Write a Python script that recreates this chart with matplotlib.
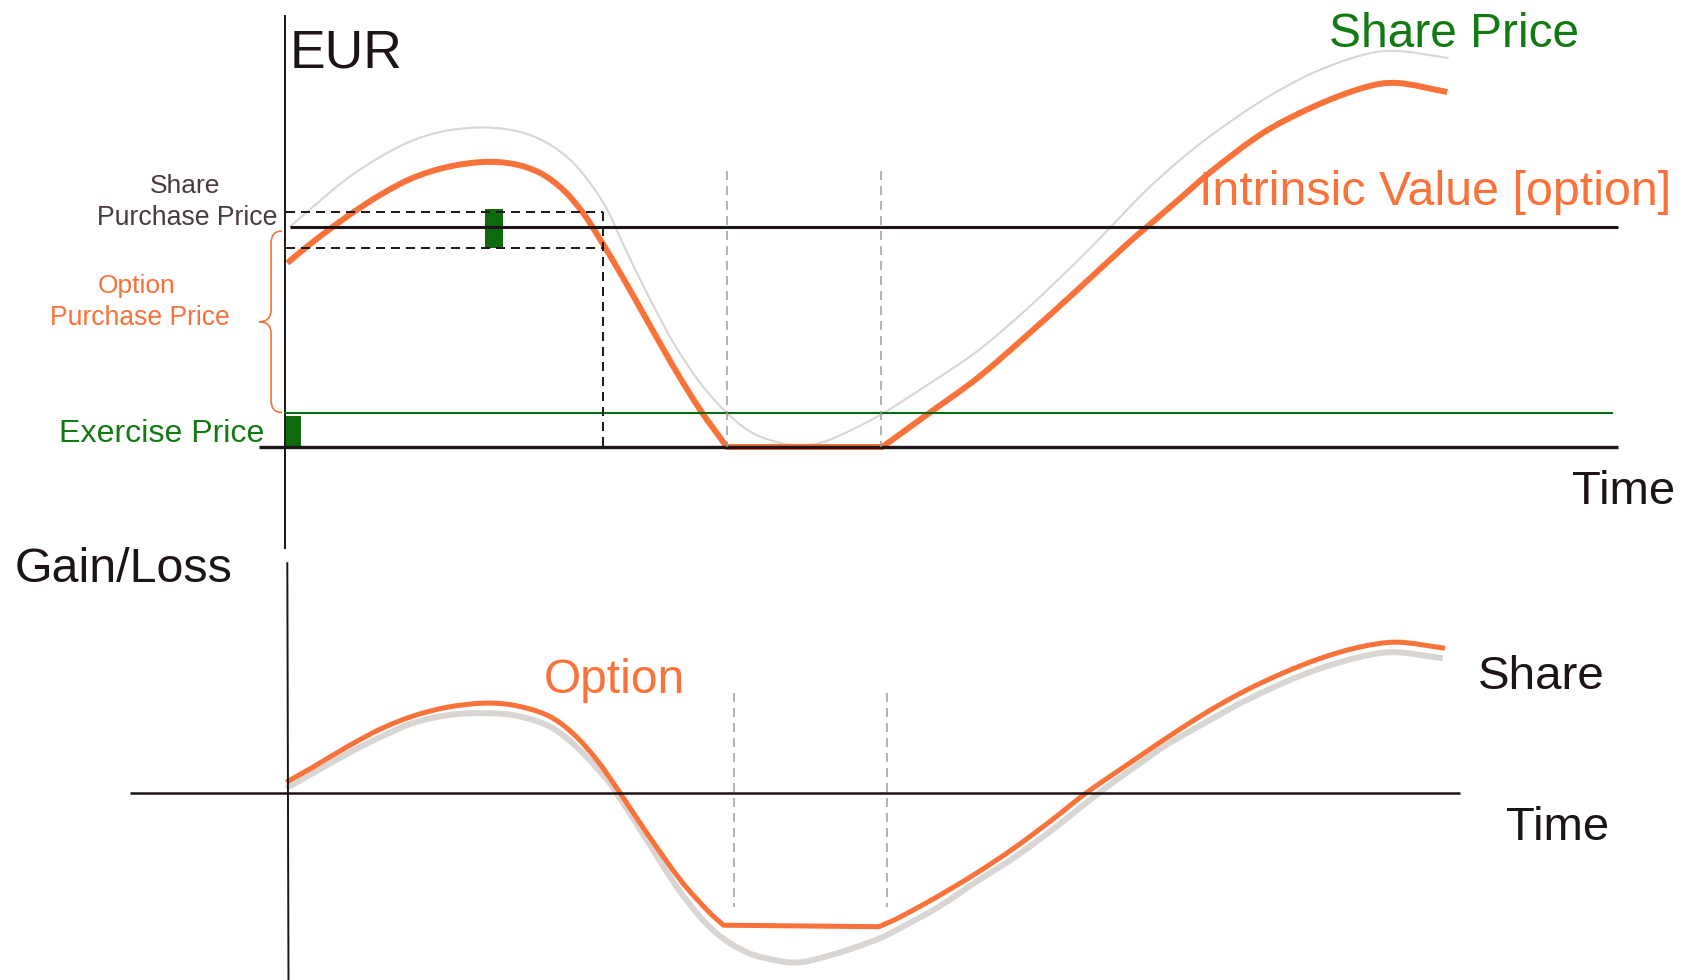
import matplotlib.pyplot as plt
from matplotlib.path import Path
from matplotlib.patches import PathPatch, Rectangle

plt.rcParams['font.family'] = ['Liberation Sans', 'DejaVu Sans']
plt.rcParams['lines.scale_dashes'] = False

ORANGE = '#f97239'
GREEN = '#0d6b0d'
GREEN_TEXT = '#137a13'
INK = '#1c1416'
LABEL_GREY = '#4a3c3c'
CURVE_GREY = '#d8d5d2'
DASH_GREY = '#a39c99'

# --- upper chart: share price and intrinsic value of the option (EUR) ---
share_t = [0.4, 2.4, 5.3, 8.2, 11.0, 14.0, 17.4, 20.3, 22.6, 24.6, 26.3, 27.8,
           29.1, 31.2, 33.5, 35.8, 38.1, 40.3, 42.7, 44.4, 46.1, 48.1, 51.3,
           55.3, 59.7, 64.0, 68.3, 71.1, 74.0, 76.9, 80.0, 84.3, 88.6, 92.9,
           95.9, 100.3]
share_eur = [44.0, 48.0, 53.6, 58.0, 61.3, 63.3, 63.9, 63.0, 60.8, 57.4, 52.8,
             47.4, 40.8, 30.8, 20.8, 12.8, 6.8, 2.8, 0.8, 0.4, 0.8, 2.6, 6.4,
             12.3, 19.2, 27.7, 37.2, 43.8, 50.8, 56.9, 62.6, 69.4, 74.8, 78.4,
             79.2, 77.8]

intrinsic_t = [0.2, 2.4, 5.3, 8.2, 11.0, 14.0, 17.1, 19.7, 22.0, 24.0, 25.7,
               27.2, 28.9, 31.2, 33.5, 35.8, 38.1, 51.5, 55.3, 59.7, 64.0, 68.3,
               72.6, 74.3, 77.2, 80.0, 84.3, 88.6, 92.9, 95.9, 100.2]
intrinsic_eur = [36.8, 41.0, 46.0, 50.4, 53.8, 56.0, 57.0, 56.6, 54.8, 51.4,
                 46.8, 41.4, 34.8, 25.4, 16.0, 7.4, 0.0, 0.0, 6.4, 13.8, 22.4,
                 31.4, 40.6, 44.0, 49.8, 55.4, 62.8, 68.0, 71.8, 72.8, 71.0]
intrinsic_kinks = [16, 17]

EXERCISE_PRICE = 6.9
SHARE_PURCHASE_PRICE = 44.0
PURCHASE_BAND = (39.8, 47.0)
BAND_END_T = 27.4
BUY_T = 18.0
OUT_OF_MONEY_T = [38.1, 51.4]

# --- lower chart: gain / loss ---
option_t = [0.1, 2.4, 5.3, 8.2, 11.0, 14.0, 17.1, 19.7, 22.6, 24.8, 26.9, 28.9,
            31.2, 34.1, 36.4, 37.8, 51.2, 53.0, 56.3, 59.6, 62.9, 66.2, 69.1,
            72.8, 76.1, 79.4, 82.7, 86.0, 89.3, 92.6, 95.9, 100.0]
option_gain = [2.1, 5.1, 9.1, 12.7, 15.3, 17.1, 17.9, 17.5, 15.5, 11.9, 6.5,
               -0.1, -8.1, -17.5, -23.5, -26.5, -26.8, -24.9, -20.7, -16.1,
               -11.0, -5.3, 0.0, 5.9, 11.1, 16.0, 20.3, 23.9, 26.9, 29.1, 30.1,
               28.9]
option_kinks = [15, 16]

share_gain_t = [0.1, 2.4, 5.3, 8.2, 11.0, 14.0, 16.8, 19.7, 22.6, 24.8, 26.9,
                28.3, 31.2, 34.1, 36.9, 39.8, 42.7, 44.4, 46.1, 48.7, 51.3, 53.0,
                56.3, 59.6, 62.9, 66.2, 70.2, 72.8, 76.1, 80.4, 82.7, 86.0, 89.3,
                92.6, 95.6, 99.8]
share_gain = [0.9, 3.9, 7.7, 11.1, 13.9, 15.5, 15.9, 15.5, 13.5, 9.9, 4.9, 0.9,
              -9.5, -19.9, -27.5, -31.9, -33.7, -33.9, -33.1, -31.3, -29.1,
              -27.1, -22.9, -17.8, -12.9, -7.3, 0.0, 4.4, 9.7, 15.4, 18.3, 21.9,
              24.9, 27.1, 28.1, 26.9]

LOWER_MARKS_T = [38.7, 51.9]

W, H = 1684, 980
fig = plt.figure(figsize=(W / 100, H / 100), dpi=100)


def panel(x0, y0, px_per_t, px_per_v):
    # full-figure axes whose origin sits at pixel (x0, y0)
    ax = fig.add_axes([0, 0, 1, 1])
    ax.set_xlim(-x0 / px_per_t, (W - x0) / px_per_t)
    ax.set_ylim(-(H - y0) / px_per_v, y0 / px_per_v)
    ax.axis('off')
    return ax


def smooth_curve(ax, xs, ys, kinks=(), **kw):
    # bezier path through the points (catmull-rom tangents), sharp at kinks
    pts = list(zip(xs, ys))
    n = len(pts)
    verts, codes = [pts[0]], [Path.MOVETO]
    for i in range(n - 1):
        p1, p2 = pts[i], pts[i + 1]
        if i == 0 or i in kinks:
            c1 = (p1[0] + (p2[0] - p1[0]) / 3, p1[1] + (p2[1] - p1[1]) / 3)
        else:
            p0 = pts[i - 1]
            c1 = (p1[0] + (p2[0] - p0[0]) / 6, p1[1] + (p2[1] - p0[1]) / 6)
        if i + 1 == n - 1 or i + 1 in kinks:
            c2 = (p2[0] - (p2[0] - p1[0]) / 3, p2[1] - (p2[1] - p1[1]) / 3)
        else:
            p3 = pts[i + 2]
            c2 = (p2[0] - (p3[0] - p1[0]) / 6, p2[1] - (p3[1] - p1[1]) / 6)
        verts += [c1, c2, p2]
        codes += [Path.CURVE4] * 3
    ax.add_patch(PathPatch(Path(verts, codes), fill=False, capstyle='butt',
                           joinstyle='round', **kw))


def label(x, y, s, size, color, ha='left'):
    fig.text(x / W, 1 - y / H, s, fontsize=size, color=color, ha=ha, va='baseline')


top = panel(285, 447, 11.6, 5)
bot = panel(285, 792.7, 11.6, 5)

# upper chart
top.plot([0, 0], [86.2, -20.2], color=INK, lw=1.4)
top.plot([-2.2, 114.9], [0, 0], color=INK, lw=2.4, solid_capstyle='butt')
top.plot([0.4, 114.9], [SHARE_PURCHASE_PRICE] * 2, color=INK, lw=2.2,
         solid_capstyle='butt')
top.plot([0, 114.4], [EXERCISE_PRICE] * 2, color=GREEN, lw=1.5)

for v in PURCHASE_BAND:
    top.plot([0.1, BAND_END_T], [v, v], color=INK, lw=1.4, dashes=(6.5, 4.3))
top.plot([BAND_END_T, BAND_END_T], [PURCHASE_BAND[1], 0], color=INK, lw=1.4,
         dashes=(6.5, 4.3))

for t in OUT_OF_MONEY_T:
    top.plot([t, t], [55.2, 0], color=DASH_GREY, lw=1.1, dashes=(6.5, 4.3))

top.add_patch(Rectangle((BUY_T - 0.78, PURCHASE_BAND[0]), 1.55, 7.8,
                        color=GREEN, lw=0))
top.add_patch(Rectangle((0.1, 0), 1.3, 6.2, color=GREEN, lw=0))

smooth_curve(top, share_t, share_eur, edgecolor=CURVE_GREY, lw=1.5)
smooth_curve(top, intrinsic_t, intrinsic_eur, kinks=intrinsic_kinks,
             edgecolor=ORANGE, lw=4.3)

# curly brace spanning exercise price -> share purchase price
lo, hi = EXERCISE_PRICE, 43.2
mid = (lo + hi) / 2
xa, xm, xt, r = -0.26, -1.2, -2.24, 2.4
brace = Path(
    [(xa, hi), (xm, hi), (xm, hi - r), (xm, mid + r), (xm, mid), (xt, mid),
     (xm, mid), (xm, mid - r), (xm, lo + r), (xm, lo), (xa, lo)],
    [Path.MOVETO, Path.CURVE3, Path.CURVE3, Path.LINETO, Path.CURVE3,
     Path.CURVE3, Path.CURVE3, Path.CURVE3, Path.LINETO, Path.CURVE3,
     Path.CURVE3])
top.add_patch(PathPatch(brace, fill=False, edgecolor=ORANGE, lw=1.2))

# lower chart
bot.plot([0.2, 0.3], [45.9, -37.5], color=INK, lw=1.4)
bot.plot([-13.4, 101.3], [0, 0], color=INK, lw=1.8, solid_capstyle='butt')
for t in LOWER_MARKS_T:
    bot.plot([t, t], [19.9, -22.9], color=DASH_GREY, lw=1.1, dashes=(6.5, 4.3))
smooth_curve(bot, share_gain_t, share_gain, edgecolor=CURVE_GREY, lw=4.3)
smooth_curve(bot, option_t, option_gain, kinks=option_kinks,
             edgecolor=ORANGE, lw=3.6)

# labels
label(290, 67, 'EUR', 38.5, INK)
label(1329, 47, 'Share Price', 34.5, GREEN_TEXT)
label(1199, 205, 'Intrinsic Value [option]', 34.8, ORANGE)
label(1572, 504, 'Time', 34, INK)
label(185, 193, 'Share', 19, LABEL_GREY, ha='center')
label(187, 225, 'Purchase Price', 19.2, LABEL_GREY, ha='center')
label(137, 293, 'Option', 19, ORANGE, ha='center')
label(140, 325, 'Purchase Price', 19.1, ORANGE, ha='center')
label(59, 442, 'Exercise Price', 23.1, GREEN_TEXT)

label(15, 582, 'Gain/Loss', 34.8, INK)
label(544, 693, 'Option', 34.5, ORANGE)
label(1478, 689, 'Share', 34.2, INK)
label(1506, 840, 'Time', 34, INK)

fig.savefig('out.png', dpi=100, facecolor='white')
